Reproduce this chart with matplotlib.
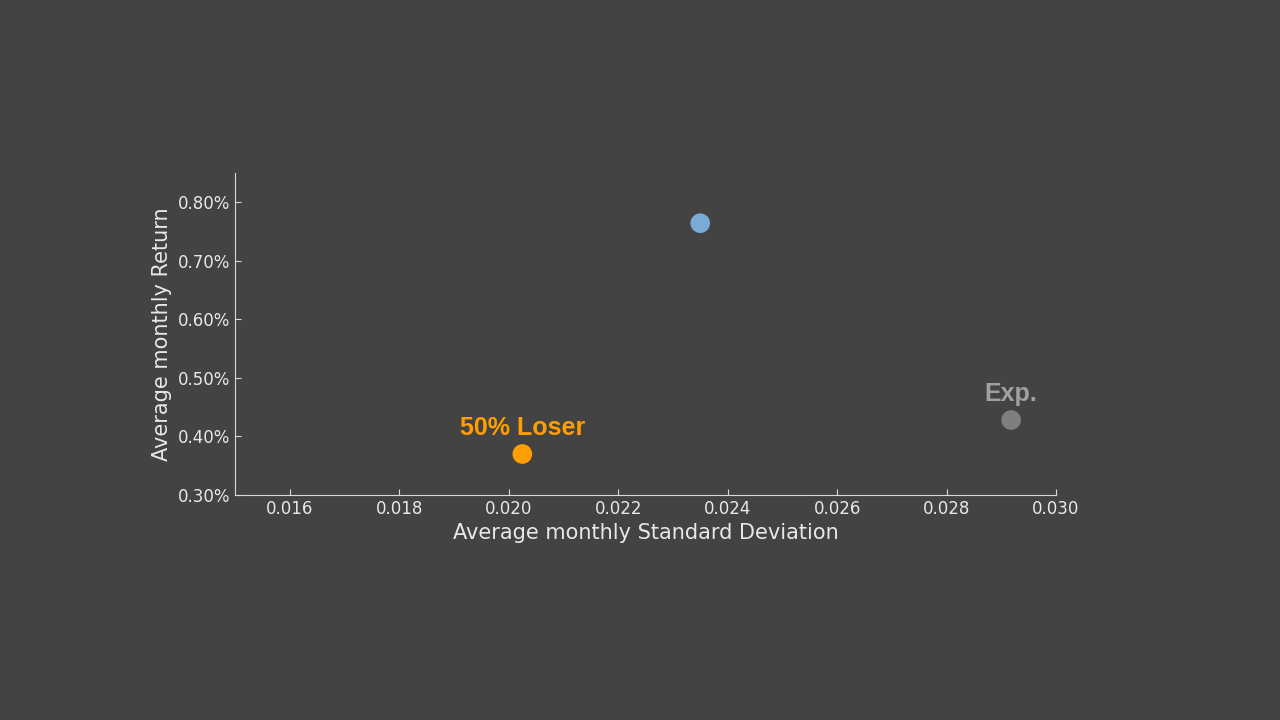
import matplotlib
matplotlib.use("Agg")
import matplotlib.pyplot as plt
from matplotlib.ticker import FuncFormatter

std = [0.0235, 0.02025, 0.02918]
ret = [0.764, 0.370, 0.428]
colors = ["#7aaad6", "#ff9e00", "#7f7f7f"]
labels = ["", "50% Loser", "Exp."]
label_colors = ["#7aaad6", "#ff9e00", "#a0a0a0"]

bg = "#434343"
fig = plt.figure(figsize=(12.8, 7.2), dpi=100, facecolor=bg)
ax = fig.add_axes([0.1836, 0.3125, 0.6414, 0.4475], facecolor=bg)
ax.scatter(std, ret, c=colors, s=200, edgecolors="none", zorder=3)
for x, y, l, c in zip(std, ret, labels, label_colors):
    if l:
        ax.annotate(l, (x, y), xytext=(0, 14), textcoords="offset points", ha="center",
                    color=c, fontsize=18, fontweight="bold", family="Liberation Sans")
ax.set_xlim(0.015, 0.030)
ax.set_ylim(0.30, 0.85)
ax.set_xticks([0.016, 0.018, 0.020, 0.022, 0.024, 0.026, 0.028, 0.030])
ax.set_yticks([0.3, 0.4, 0.5, 0.6, 0.7, 0.8])
ax.xaxis.set_major_formatter(FuncFormatter(lambda v, p: f"{v:.3f}"))
ax.yaxis.set_major_formatter(FuncFormatter(lambda v, p: f"{v:.2f}%"))
for s in ["top", "right"]:
    ax.spines[s].set_visible(False)
for s in ["left", "bottom"]:
    ax.spines[s].set_color("#d9d9d9")
ax.tick_params(colors="#d9d9d9", labelcolor="#e8e8e8", labelsize=12, direction="in", length=4)
ax.set_xlabel("Average monthly Standard Deviation", color="#e8e8e8", fontsize=15)
ax.set_ylabel("Average monthly Return", color="#e8e8e8", fontsize=15)
fig.savefig("out.png", dpi=100, facecolor=bg)
